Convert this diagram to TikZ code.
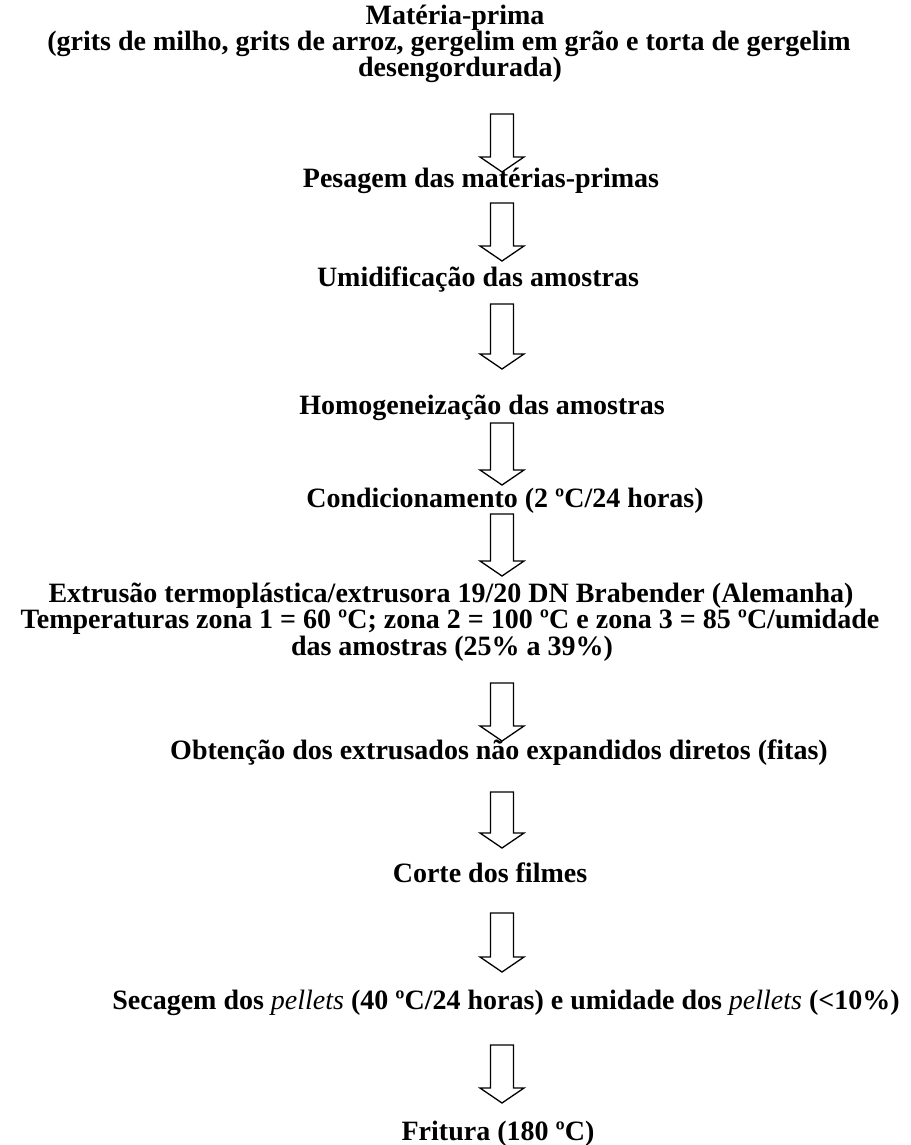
\documentclass[tikz,border=0pt]{standalone}
\usepackage{fontspec}
\setmainfont{Liberation Serif}
\tikzset{
  txt/.style={inner sep=0pt, anchor=base, font=\fontsize{28}{26}\selectfont\bfseries},
  arrowline/.style={draw=black, line width=1.3pt, fill=white, line join=miter}
}
\newcommand\blkarrow[2]{\draw[arrowline] (490.5,#1) -- (490.5,#2-15) -- (480,#2-15) -- (502,#2) -- (524,#2-15) -- (513.5,#2-15) -- (513.5,#1) -- cycle;}
\newcommand\pel{{\mdseries\itshape pellets}}
\begin{document}
\begin{tikzpicture}[x=1pt,y=-1pt]
\useasboundingbox (0,0) rectangle (910,1145);
\fill[white] (0,0) rectangle (910,1145);
% texts
\node[txt] (mp1) at (455,25) {Matéria-prima};
\node[txt] (mp2) at (449,51) {(grits de milho, grits de arroz, gergelim em grão e torta de gergelim};
\node[txt] (mp3) at (460,77) {desengordurada)};
\node[txt] (pes) at (481,187) {Pesagem das matérias-primas};
\node[txt] (umi) at (478,286) {Umidificação das amostras};
\node[txt] (hom) at (482,414) {Homogeneização das amostras};
\node[txt] (con) at (505,507) {Condicionamento (2 ºC/24 horas)};
\node[txt] (ex1) at (451,602) {Extrusão termoplástica/extrusora 19/20 DN Brabender (Alemanha)};
\node[txt] (ex2) at (450,628) {Temperaturas zona 1 = 60 ºC; zona 2 = 100 ºC e zona 3 = 85 ºC/umidade};
\node[txt] (ex3) at (452,655) {das amostras (25\% a 39\%)};
\node[txt] (obt) at (499,759) {Obtenção dos extrusados não expandidos diretos (fitas)};
\node[txt] (cor) at (490,882) {Corte dos filmes};
\node[txt] (sec) at (506,1009) {Secagem dos \pel{} (40 ºC/24 horas) e umidade dos \pel{} (<10\%)};
\node[txt] (fri) at (498,1140) {Fritura (180 ºC)};
% block arrows
\blkarrow{114}{172}
\blkarrow{203}{261}
\blkarrow{304}{369}
\blkarrow{423}{485}
\blkarrow{514}{576}
\blkarrow{683}{741}
\blkarrow{792}{848}
\blkarrow{913}{972}
\blkarrow{1045}{1103}
\end{tikzpicture}
\end{document}
